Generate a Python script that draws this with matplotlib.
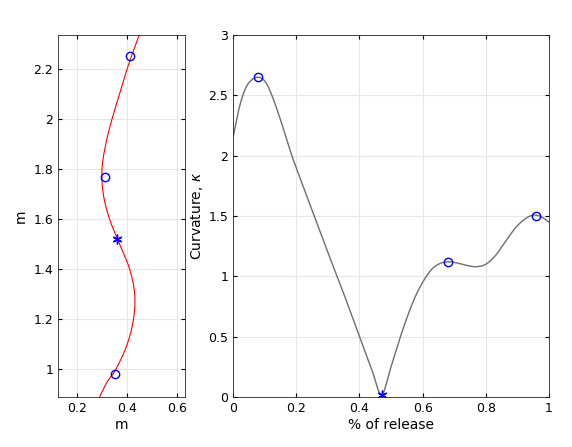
import numpy as np
import matplotlib
matplotlib.use("Agg")
import matplotlib.pyplot as plt

# left: path shape (x vs y)
path_y = [0.89, 0.95, 1.00, 1.10, 1.20, 1.30, 1.40, 1.50, 1.60, 1.70, 1.80, 1.90, 2.00, 2.10, 2.20, 2.30, 2.34]
path_x = [0.29, 0.32, 0.355, 0.40, 0.425, 0.43, 0.41, 0.37, 0.33, 0.305, 0.30, 0.315, 0.34, 0.37, 0.40, 0.435, 0.45]
mark_x = [0.41, 0.31, 0.35]
mark_y = [2.25, 1.77, 0.98]
star_x, star_y = 0.36, 1.52

# right: curvature
rel = [0.0, 0.02, 0.04, 0.06, 0.08, 0.10, 0.12, 0.15, 0.18, 0.20, 0.25, 0.30, 0.35, 0.40, 0.44, 0.47,
       0.50, 0.54, 0.58, 0.62, 0.65, 0.68, 0.71, 0.74, 0.77, 0.80, 0.83, 0.86, 0.90, 0.94, 0.97, 1.0]
kap = [2.15, 2.40, 2.56, 2.63, 2.65, 2.62, 2.52, 2.30, 2.05, 1.90, 1.55, 1.20, 0.86, 0.50, 0.22, 0.02,
       0.25, 0.58, 0.85, 1.03, 1.10, 1.12, 1.11, 1.09, 1.08, 1.10, 1.17, 1.28, 1.42, 1.50, 1.50, 1.45]
cmark_x = [0.08, 0.68, 0.96]
cmark_y = [2.65, 1.12, 1.50]
cstar = (0.47, 0.02)


def smooth(xs, ys, n=12):
    # Catmull-Rom rendering of the read points
    P = np.column_stack([xs, ys]).astype(float)
    P = np.vstack([P[0], P, P[-1]])
    out = []
    t = np.linspace(0, 1, n, endpoint=False)[:, None]
    for i in range(1, len(P) - 2):
        p0, p1, p2, p3 = P[i - 1], P[i], P[i + 1], P[i + 2]
        out.append(0.5 * ((2 * p1) + (-p0 + p2) * t + (2 * p0 - 5 * p1 + 4 * p2 - p3) * t ** 2
                          + (-p0 + 3 * p1 - 3 * p2 + p3) * t ** 3))
    out.append(P[-2][None, :])
    o = np.vstack(out)
    return o[:, 0], o[:, 1]


star_marker = (6, 2, 0)
fig = plt.figure(figsize=(5.72, 4.47), dpi=100)
ax1 = fig.add_axes([58/572, 50/447, 127/572, 362/447])
ax2 = fig.add_axes([233/572, 50/447, 316/572, 362/447])
for ax in (ax1, ax2):
    ax.grid(True, color='#e6e6e6', linewidth=0.8)
    ax.set_axisbelow(True)
    ax.tick_params(direction='in', labelsize=9, top=True, right=True, length=3)
    for s in ax.spines.values():
        s.set_color('#262626'); s.set_linewidth(0.6)

sx, sy = smooth(path_x, path_y)
ax1.plot(sx, sy, color='red', lw=0.8)
ax1.plot(mark_x, mark_y, 'o', mfc='none', mec='blue', ms=6)
ax1.plot(star_x, star_y, marker=star_marker, color='blue', ms=7, mew=1, ls='none')
ax1.set_xlim(0.125, 0.63); ax1.set_ylim(0.89, 2.335)
ax1.set_xticks([0.2, 0.4, 0.6]); ax1.set_yticks([1, 1.2, 1.4, 1.6, 1.8, 2, 2.2])
ax1.set_xticklabels(['0.2', '0.4', '0.6']); ax1.set_yticklabels(['1', '1.2', '1.4', '1.6', '1.8', '2', '2.2'])
ax1.set_xlabel('m', fontsize=10, labelpad=2); ax1.set_ylabel('m', fontsize=10)

rx, ry = smooth(rel, kap)
ax2.plot(rx, ry, color='#6e6e6e', lw=1)
ax2.plot(cmark_x, cmark_y, 'o', mfc='none', mec='blue', ms=6)
ax2.plot(*cstar, marker=star_marker, color='blue', ms=7, mew=1, ls='none')
ax2.set_xlim(0, 1); ax2.set_ylim(0, 3)
ax2.set_xticks([0, 0.2, 0.4, 0.6, 0.8, 1]); ax2.set_xticklabels(['0', '0.2', '0.4', '0.6', '0.8', '1'])
ax2.set_yticks([0, 0.5, 1, 1.5, 2, 2.5, 3]); ax2.set_yticklabels(['0', '0.5', '1', '1.5', '2', '2.5', '3'])
ax2.set_xlabel('% of release', fontsize=10, labelpad=2)
ax2.set_ylabel(r'Curvature, $\kappa$', fontsize=10, labelpad=2)

fig.savefig('out.png', dpi=100)
